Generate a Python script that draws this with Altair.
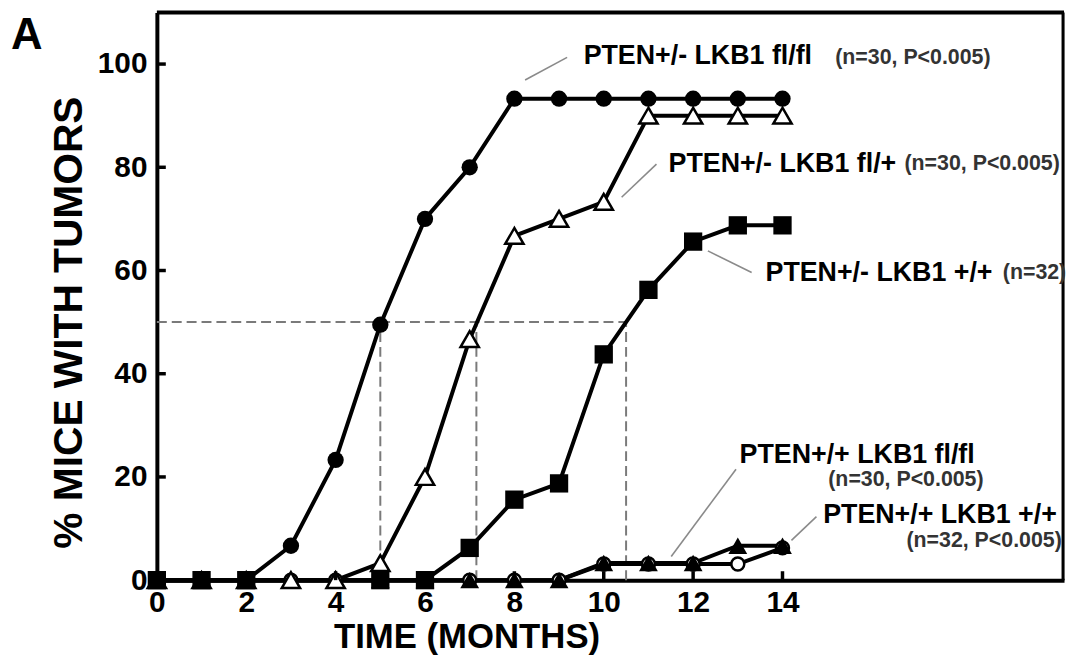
import altair as alt
import pandas as pd

# ---------------- data ----------------
months = list(range(15))
pten_het_lkb1_flfl = [0, 0, 0, 6.67, 23.3, 49.5, 70, 80, 93.3, 93.3, 93.3, 93.3, 93.3, 93.3, 93.3]
pten_het_lkb1_flplus = [0, 0, 0, 0, 0, 3.3, 20, 46.7, 66.7, 70, 73.3, 90, 90, 90, 90]
sq_months = [0, 1, 2, 5, 6, 7, 8, 9, 10, 11, 12, 13, 14]
pten_het_lkb1_wt = [0, 0, 0, 0, 0, 6.25, 15.6, 18.75, 43.75, 56.25, 65.6, 68.75, 68.75]
pten_wt_lkb1_flfl = [0, 0, 0, 0, 0, 0, 0, 0, 0, 0, 3.33, 3.33, 3.33, 6.67, 6.67]
pten_wt_lkb1_wt = [0, 0, 0, 0, 0, 0, 0, 0, 0, 0, 3.13, 3.13, 3.13, 3.13, 6.25]

x_tick_values = [0, 2, 4, 6, 8, 10, 12, 14]
y_tick_values = [0, 20, 40, 60, 80, 100]

# median guide lines (dashed)
guide_x = [0, 5, 7.15, 10.5]
guide_x2 = [10.5, 5, 7.15, 10.5]
guide_y = [50, 0, 0, 0]
guide_y2 = [50, 50, 50, 50]

# annotation labels (data coordinates)
ann_text = ["PTEN+/- LKB1 fl/fl", "PTEN+/- LKB1 fl/+", "PTEN+/- LKB1 +/+",
            "PTEN+/+ LKB1 fl/fl", "PTEN+/+ LKB1 +/+"]
ann_x = [9.55, 11.45, 13.62, 13.04, 14.91]
ann_y = [101.5, 80.6, 59.6, 24.2, 12.6]

nleft_text = ["(n=30, P<0.005)", "(n=30, P<0.005)", "(n=32)"]
nleft_x = [15.18, 16.73, 18.93]
nleft_y = [101.2, 80.6, 59.6]

nright_text = ["(n=30, P<0.005)", "(n=32, P<0.005)"]
nright_x = [18.5, 20.25]
nright_y = [19.4, 7.6]

lead_x = [8.24, 10.4, 12.33, 11.51, 14.2]
lead_x2 = [9.18, 11.18, 13.31, 12.96, 14.76]
lead_y = [96.9, 74.2, 63.8, 4.6, 7.7]
lead_y2 = [101.3, 80.6, 59.6, 21.5, 12.3]

# ---------------- tables ----------------
FONT = "Liberation Sans"
W, H = 914, 572

series = []
series.append(pd.DataFrame({"x": months, "y": pten_wt_lkb1_wt, "s": "wt_wt"}))
series.append(pd.DataFrame({"x": months, "y": pten_wt_lkb1_flfl, "s": "wt_flfl"}))
series.append(pd.DataFrame({"x": months, "y": pten_het_lkb1_flplus, "s": "het_flplus"}))
series.append(pd.DataFrame({"x": months, "y": pten_het_lkb1_flfl, "s": "het_flfl"}))
series.append(pd.DataFrame({"x": sq_months, "y": pten_het_lkb1_wt, "s": "het_wt"}))
all_df = pd.concat(series, ignore_index=True)

x_axis = alt.Axis(values=x_tick_values, title="TIME (MONTHS)", ticks=False, grid=False,
                  domainColor="black", domainWidth=4, labelFont=FONT, labelFontWeight="bold",
                  labelFontSize=30, labelColor="black", labelPadding=8, labelFlush=False,
                  labelOverlap=False, titleFont=FONT, titleFontSize=35, titleFontWeight="bold",
                  titleColor="black", titleX=312, titleY=57, titleBaseline="middle",
                  titleAlign="center")
y_axis = alt.Axis(values=y_tick_values, title="% MICE WITH TUMORS", ticks=False, grid=False,
                  domainColor="black", domainWidth=4, labelFont=FONT, labelFontWeight="bold",
                  labelFontSize=30, labelColor="black", labelPadding=10, labelFlush=False,
                  labelOverlap=False, titleFont=FONT, titleFontSize=41, titleFontWeight="bold",
                  titleColor="black", titleX=-88, titleY=312, titleAngle=270,
                  titleBaseline="middle", titleAlign="center")
xs = alt.Scale(domain=[0, 20.3], nice=False, zero=False)
ys = alt.Scale(domain=[0, 110], nice=False, zero=False)


def X(f="x"):
    return alt.X(f + ":Q", scale=xs, axis=x_axis)


def Y(f="y"):
    return alt.Y(f + ":Q", scale=ys, axis=y_axis)


frame_top = alt.Chart(pd.DataFrame({"k": [0]})).mark_rule(color="black", strokeWidth=4).encode(
    x=alt.value(0), x2=alt.value(W), y=alt.value(0)
)
frame_right = alt.Chart(pd.DataFrame({"k": [0]})).mark_rule(color="black", strokeWidth=3).encode(
    x=alt.value(W - 1), y=alt.value(0), y2=alt.value(H)
)

guides = alt.Chart(pd.DataFrame({"x": guide_x, "x2": guide_x2, "y": guide_y, "y2": guide_y2})).mark_rule(
    color="#7a7a7a", strokeWidth=2, strokeDash=[10, 5]
).encode(x=X(), x2="x2:Q", y=Y(), y2="y2:Q")

lines = alt.Chart(all_df).mark_line(color="black", strokeWidth=4).encode(
    x=X(), y=Y(), detail="s:N", order="x:Q"
)


def pts(name, shape, fill, size, sw=0):
    d = all_df[all_df["s"] == name]
    kw = dict(shape=shape, fill=fill, size=size, opacity=1, fillOpacity=1, filled=True)
    if sw:
        kw.update(stroke="black", strokeWidth=sw)
    return alt.Chart(d).mark_point(**kw).encode(x=X(), y=Y())


p_wtwt = pts("wt_wt", "circle", "white", 170, 2.5)
p_wtfl = pts("wt_flfl", "triangle-up", "black", 360)
p_hetflp = pts("het_flplus", "triangle-up", "white", 340, 2.5)
p_hetfl = pts("het_flfl", "circle", "black", 270)
p_hetwt = pts("het_wt", "square", "black", 340)

xticks = alt.Chart(pd.DataFrame({"x": x_tick_values})).mark_rule(color="black", strokeWidth=3.5).encode(
    x=X(), y=alt.value(H), y2=alt.value(H - 9)
)
yticks = alt.Chart(pd.DataFrame({"y": y_tick_values})).mark_rule(color="black", strokeWidth=3.5).encode(
    y=Y(), x=alt.value(0), x2=alt.value(9)
)

leaders = alt.Chart(pd.DataFrame({"x": lead_x, "x2": lead_x2, "y": lead_y, "y2": lead_y2})).mark_rule(
    color="#8a8a8a", strokeWidth=1.6
).encode(x=X(), x2="x2:Q", y=Y(), y2="y2:Q")

ann_main = alt.Chart(pd.DataFrame({"x": ann_x, "y": ann_y, "t": ann_text})).mark_text(
    font=FONT, fontWeight="bold", fontSize=27, align="left", baseline="middle", color="black"
).encode(x=X(), y=Y(), text="t:N")

ann_nl = alt.Chart(pd.DataFrame({"x": nleft_x, "y": nleft_y, "t": nleft_text})).mark_text(
    font=FONT, fontWeight="bold", fontSize=21.5, align="left", baseline="middle", color="#333333"
).encode(x=X(), y=Y(), text="t:N")

ann_nr = alt.Chart(pd.DataFrame({"x": nright_x, "y": nright_y, "t": nright_text})).mark_text(
    font=FONT, fontWeight="bold", fontSize=21.5, align="right", baseline="middle", color="#333333"
).encode(x=X(), y=Y(), text="t:N")

panel = alt.Chart(pd.DataFrame({"t": ["A"]})).mark_text(
    font=FONT, fontWeight="bold", fontSize=44, align="center", baseline="middle", color="black"
).encode(x=alt.value(-131), y=alt.value(24), text="t:N")

chart = alt.layer(
    guides, lines, p_wtwt, p_wtfl, p_hetflp, p_hetfl, p_hetwt,
    xticks, yticks, frame_top, frame_right, leaders, ann_main, ann_nl, ann_nr, panel
).properties(
    width=W, height=H,
    autosize=alt.AutoSizeParams(type="none"),
    padding={"left": 150, "top": 2, "right": 3, "bottom": 85},
).configure_view(
    strokeWidth=0
).configure(background="white")

chart.save("out.html", embed_options={"renderer": "svg", "actions": False})
